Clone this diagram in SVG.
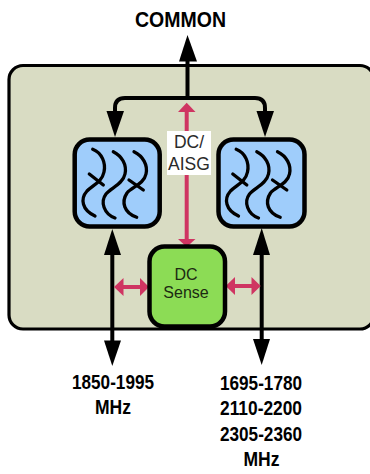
<svg xmlns="http://www.w3.org/2000/svg" width="370" height="474" viewBox="0 0 370 474">
<style>
text{font-family:"Liberation Sans",Arial,sans-serif;text-anchor:middle}
.b{font-weight:700;font-size:20px;fill:#000}
.c{font-size:22.500px}
.s{font-size:16px;fill:#1c2a12}
.l{font-size:17.500px;fill:#2a2a2a}
.k{fill:none;stroke:#000;stroke-width:4}
.p{fill:none;stroke:#cf3562;stroke-width:4}
.ah{fill:#000}
.ph{fill:#cf3562}
.box{stroke:#000;stroke-width:4.500}
.w{fill:none;stroke:#000;stroke-width:3.300;stroke-linecap:round}
</style>
<defs>
<g id="waves">
<path class="w" d="M32.700 19.300C42 23 46 33 44 42C42 52 33 55 27 61C20 69 22 80 35 86"/>
<path class="w" d="M53.300 21.700C62 26 67 35 65 44C63 54 51 58 46 64C40 72 44 84 55 88"/>
<path class="w" d="M74 21.700C83 26 88 35 86 44C84 54 72 57 67 63C61 72 64 83 76.700 87.300"/>
<path class="w" d="M29.300 44L43.300 55M69 50L83.300 60"/>
</g>
</defs>
<rect id="panel" x="9" y="65.500" width="365" height="263.500" rx="14" fill="#d9dcc3" stroke="#000" stroke-width="3.200"/>
<g id="connectors">
<path class="k" d="M187.500 98V58"/>
<polygon class="ah" points="187.500,35 179,61.500 197,61.500"/>
<path class="k" d="M115 112V108Q115 98 125 98H255Q265 98 265 108V112"/>
<polygon class="ah" points="115,137 106.500,111 124,111"/>
<polygon class="ah" points="265,137 256.500,111 274,111"/>
<path class="p" d="M186.700 110V241"/>
<polygon class="ph" points="186.700,102.700 178,112 195.500,112"/>
<polygon class="ph" points="186.700,247 178,239 195.500,239"/>
<path class="k" d="M112.300 250V345"/>
<polygon class="ah" points="112.300,229 104,255 121,255"/>
<polygon class="ah" points="112.300,366 104,340.500 121,340.500"/>
<path class="k" d="M261.700 250V345"/>
<polygon class="ah" points="261.700,228 253,255 270,255"/>
<polygon class="ah" points="261.700,365 253,339 270,339"/>
<path class="p" d="M120 287H143"/>
<polygon class="ph" points="114,287 123.500,278 123.500,296"/>
<polygon class="ph" points="149,287 140,278 140,296"/>
<path class="p" d="M232 286H255"/>
<polygon class="ph" points="225.700,286 235,277 235,295"/>
<polygon class="ph" points="260.700,286 251.500,277 251.500,295"/>
</g>
<g id="label-dc-aisg">
<rect x="167" y="131" width="44" height="44" fill="#fff"/>
<text class="l" x="189" y="147.500">DC/</text>
<text class="l" x="189" y="169.500">AISG</text>
</g>
<g id="filter-left">
<rect class="box" x="74.700" y="139.500" width="85" height="87" rx="15" fill="#9fcdfb"/>
<use href="#waves" transform="translate(60 130)"/>
</g>
<g id="filter-right">
<rect class="box" x="218.500" y="139.500" width="86" height="87" rx="15" fill="#9fcdfb"/>
<use href="#waves" transform="translate(203.500 130)"/>
</g>
<g id="dc-sense">
<rect class="box" x="149.500" y="246.500" width="75.500" height="80" rx="15" fill="#8cdc55"/>
<text class="s" x="186" y="279.500">DC</text>
<text class="s" x="186" y="298">Sense</text>
</g>
<g id="label-common"><text class="b c" x="180.500" y="27" textLength="91" lengthAdjust="spacingAndGlyphs">COMMON</text></g>
<g id="label-left">
<text class="b" x="113" y="389" textLength="82" lengthAdjust="spacingAndGlyphs">1850-1995</text>
<text class="b" x="113" y="414" textLength="36" lengthAdjust="spacingAndGlyphs">MHz</text>
</g>
<g id="label-right">
<text class="b" x="261" y="390" textLength="82" lengthAdjust="spacingAndGlyphs">1695-1780</text>
<text class="b" x="261" y="415" textLength="82" lengthAdjust="spacingAndGlyphs">2110-2200</text>
<text class="b" x="261" y="440.500" textLength="82" lengthAdjust="spacingAndGlyphs">2305-2360</text>
<text class="b" x="261.500" y="466" textLength="36" lengthAdjust="spacingAndGlyphs">MHz</text>
</g>
</svg>
